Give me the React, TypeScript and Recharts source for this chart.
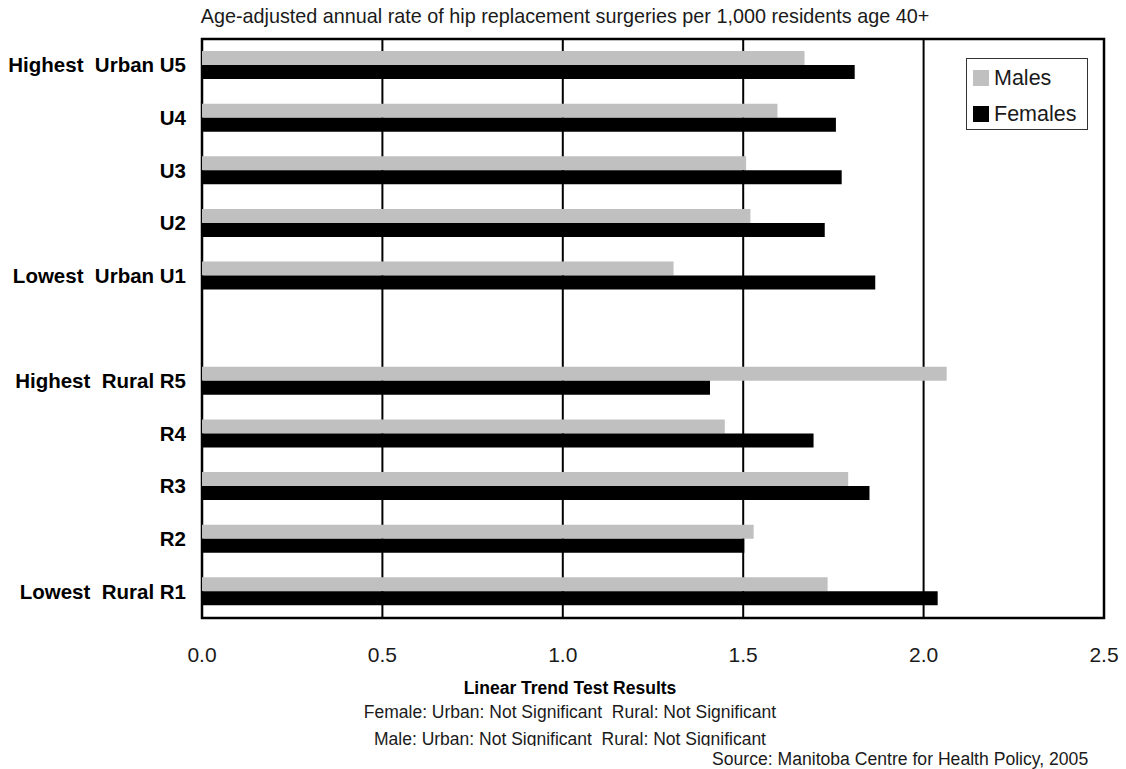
import {
  Bar,
  BarChart,
  CartesianGrid,
  Legend,
  ReferenceArea,
  XAxis,
  YAxis,
} from "recharts";

const categories = [
  "Highest  Urban U5",
  "U4",
  "U3",
  "U2",
  "Lowest  Urban U1",
  "",
  "Highest  Rural R5",
  "R4",
  "R3",
  "R2",
  "Lowest  Rural R1",
];
const males = [1.67, 1.595, 1.508, 1.52, 1.307, null, 2.064, 1.449, 1.791, 1.529, 1.734];
const females = [1.809, 1.757, 1.773, 1.726, 1.866, null, 1.408, 1.695, 1.85, 1.503, 2.039];
const xTicks = [0, 0.5, 1, 1.5, 2, 2.5];

const FONT = '"Liberation Sans", Arial, Helvetica, sans-serif';
const INK = "#1a1a1a";

const data = categories.map((name, i) => ({
  name,
  males: males[i],
  females: females[i],
}));

function CategoryTick({ x, y, payload }: any) {
  return (
    <text
      x={x - 16}
      y={y + 7}
      textAnchor="end"
      fontFamily={FONT}
      fontWeight="bold"
      fontSize={20.5}
      fill="#000"
      style={{ whiteSpace: "pre" }}
    >
      {payload.value}
    </text>
  );
}

function ValueTick({ x, y, payload }: any) {
  return (
    <text x={x} y={y + 44} textAnchor="middle" fontFamily={FONT} fontSize={21} fill={INK}>
      {Number(payload.value).toFixed(1)}
    </text>
  );
}

// legend rows in the same top-to-bottom order as the bars
function LegendBox({ payload }: any) {
  const rows = [...(payload || [])].sort(
    (a: any, b: any) => (a.value === "Males" ? -1 : 0) - (b.value === "Males" ? -1 : 0)
  );
  return (
    <div
      style={{
        border: "1px solid #333",
        background: "#fff",
        width: 122,
        height: 72,
        boxSizing: "border-box",
        fontFamily: FONT,
        color: INK,
        fontSize: 21.5,
        paddingTop: 1,
      }}
    >
      {rows.map((p: any) => (
        <div key={p.value} style={{ display: "flex", alignItems: "center", height: 36, paddingLeft: 6 }}>
          <span style={{ width: 16, height: 16, background: p.color, marginRight: 5, flex: "none" }} />
          <span>{p.value}</span>
        </div>
      ))}
    </div>
  );
}

export default function App() {
  return (
    <div style={{ position: "absolute", left: 0, top: 0, width: 1126, height: 769, background: "#fff" }}>
      <BarChart
        width={1126}
        height={769}
        data={data}
        layout="vertical"
        margin={{ top: 39, right: 22, bottom: 111, left: 0 }}
        barSize={14}
        barGap={0}
      >
        <CartesianGrid horizontal={false} stroke="#000" strokeWidth={2} />
        <XAxis
          type="number"
          domain={[0, 2.5]}
          ticks={xTicks}
          height={40}
          axisLine={false}
          tickLine={false}
          tickSize={0}
          tickMargin={0}
          tick={<ValueTick />}
          interval={0}
        />
        <YAxis
          type="category"
          dataKey="name"
          width={202}
          axisLine={false}
          tickLine={false}
          tickSize={0}
          tickMargin={0}
          tick={<CategoryTick />}
          interval={0}
        />
        <Bar dataKey="males" name="Males" fill="#c0c0c0" isAnimationActive={false} />
        <Bar dataKey="females" name="Females" fill="#000" isAnimationActive={false} />
        <ReferenceArea x1={0} x2={2.5} fill="none" stroke="#000" strokeWidth={2.5} ifOverflow="visible" />
        <Legend
          layout="horizontal"
          verticalAlign="middle"
          align="center"
          content={<LegendBox />}
          wrapperStyle={{ left: 966, top: 58, width: 122, height: 72 }}
        />
      </BarChart>
      <svg
        width={1126}
        height={769}
        style={{ position: "absolute", left: 0, top: 0, pointerEvents: "none" }}
      >
        <defs>
          <clipPath id="noteClip">
            <rect x={0} y={0} width={1126} height={746} />
          </clipPath>
        </defs>
        <text x={565} y={23} textAnchor="middle" fontFamily={FONT} fontSize={19.8} fill={INK}>
          Age-adjusted annual rate of hip replacement surgeries per 1,000 residents age 40+
        </text>
        <text x={570} y={694} textAnchor="middle" fontFamily={FONT} fontSize={17.5} fontWeight="bold" fill="#000">
          Linear Trend Test Results
        </text>
        <text x={570} y={718} textAnchor="middle" fontFamily={FONT} fontSize={17.5} fill={INK} style={{ whiteSpace: "pre" }}>
          Female: Urban: Not Significant  Rural: Not Significant
        </text>
        <text
          x={570}
          y={744.5}
          textAnchor="middle"
          fontFamily={FONT}
          fontSize={17.5}
          fill={INK}
          clipPath="url(#noteClip)"
          style={{ whiteSpace: "pre" }}
        >
          Male: Urban: Not Significant  Rural: Not Significant
        </text>
        <text x={712} y={765} fontFamily={FONT} fontSize={17.6} fill={INK}>
          Source: Manitoba Centre for Health Policy, 2005
        </text>
      </svg>
    </div>
  );
}
